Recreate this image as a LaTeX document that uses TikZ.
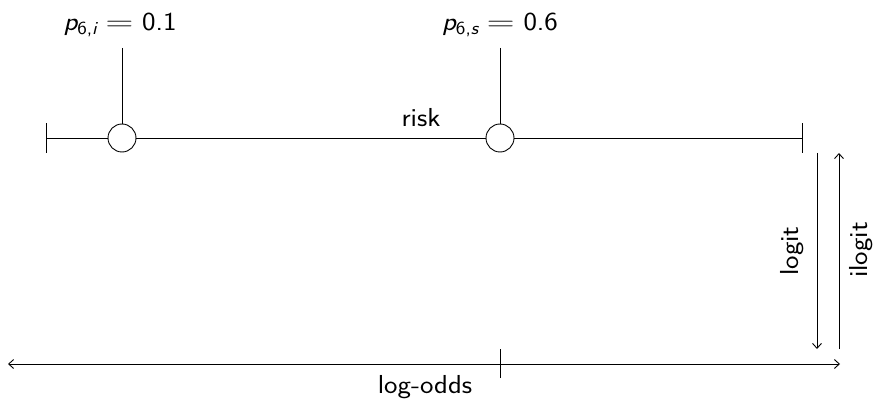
\documentclass[tikz,border=0pt]{standalone}
\usetikzlibrary{arrows.meta}
\newcommand{\wide}[1]{\scalebox{1.1}[1]{#1}}
\newcommand{\lab}[2]{\wide{{\itshape p}\raisebox{-0.3ex}{\fontsize{18.5}{20}\selectfont 6,{\itshape #1}}\hspace{0.3em}\scalebox{1.35}[1]{=}\hspace{0.3em}#2}}
\begin{document}
\begin{tikzpicture}[x=1pt,y=-1pt,
  >={Straight Barb[length=5pt,width=9pt]},
  every node/.style={font=\sffamily\fontsize{26}{31}\selectfont,inner sep=0pt},
  ln/.style={line width=0.9pt},
  arr/.style={line width=0.9pt,->},
  dot/.style={circle,draw,line width=0.9pt,minimum size=28pt,inner sep=0pt}]
\useasboundingbox (0,0) rectangle (879,401);
% risk line
\coordinate (rl) at (46,138);
\coordinate (rr) at (802,138);
\node[dot] (ci) at (122,138) {};
\node[dot] (cs) at (500,138) {};
\draw[ln] (rl) -- (ci.west) (ci.east) -- (cs.west) (cs.east) -- (rr);
\draw[ln] ([yshift=-15pt]rl) -- ([yshift=15pt]rl);
\draw[ln] ([yshift=-15pt]rr) -- ([yshift=15pt]rr);
\node[anchor=base] (risk) at (421,127) {\wide{risk}};
% labels
\node[anchor=base] (li) at (120,31) {\lab{i}{0.1}};
\node[anchor=base] (ls) at (500,31) {\lab{s}{0.6}};
\coordinate (ti) at (122,48);
\coordinate (ts) at (500,48);
\draw[ln] (ti) -- (ci.north);
\draw[ln] (ts) -- (cs.north);
% logit arrows
\coordinate (la) at (817,153);
\coordinate (lb) at (817,349);
\coordinate (ia) at (839,349);
\coordinate (ib) at (839,153);
\draw[arr] (la) -- (lb);
\draw[arr] (ia) -- (ib);
\node[rotate=90] (logit) at (792,251) {\wide{logit}};
\node[rotate=90] (ilogit) at (861,250) {\wide{ilogit}};
% log-odds
\coordinate (ol) at (8,364);
\coordinate (or) at (840,364);
\coordinate (om) at (500,364);
\draw[ln,<->] (ol) -- (or);
\draw[ln] ([yshift=-14pt]om) -- ([yshift=15pt]om);
\node[anchor=base] (lo) at (425,393) {\wide{log-odds}};
\end{tikzpicture}
\end{document}
